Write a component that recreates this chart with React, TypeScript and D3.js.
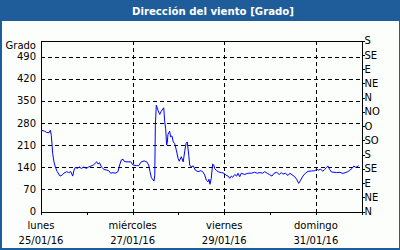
import React from "react";
import * as d3 from "d3";

const startDate = new Date(2016, 0, 25, 0, 0, 0);
const endDate = new Date(2016, 1, 1, 0, 0, 0);

// hours since 25/01/16 00:00
const hours = [
  0, 1.9, 3.0, 4.2, 4.9, 5.4, 5.8, 6.1, 6.8, 7.5, 8.5, 10.0, 11.0, 12.0, 13.5, 14.5, 15.6, 16.6, 17.3, 18.0,
  19.0, 20.1, 21.1, 22.5, 23.7, 25.0, 26.3, 27.4, 29.2, 29.9, 30.7, 31.6, 33.0, 34.4, 35.5, 36.5, 37.7, 38.9,
  40.3, 41.2, 42.1, 43.0, 43.5, 44.5, 47.0, 48.2, 49.9, 51.2, 52.5, 54.0, 55.4, 56.4, 57.1, 57.8, 59.2, 59.6,
  59.9, 60.4, 61.3, 62.2, 63.0, 64.3, 64.8, 65.3, 65.8, 66.2, 66.5, 67.4, 67.9, 68.6, 69.3, 70.0, 70.9, 71.8,
  72.4, 73.5, 74.5, 75.3, 76.0, 76.6, 77.4, 77.9, 78.7, 79.8, 80.8, 82.2, 83.7, 84.7, 85.8, 86.6, 87.5, 88.0,
  88.5, 89.2, 89.9, 90.5, 91.0, 92.0, 93.1, 94.4, 95.9, 96.9, 98.0, 98.9, 99.7, 100.4, 101.5, 102.5, 103.2,
  104.1, 104.9, 106.7, 108.4, 110.2, 111.9, 113.3, 114.7, 116.1, 117.2, 118.5, 119.6, 121.0, 122.1, 123.5,
  124.8, 125.9, 126.8, 128.0, 129.4, 130.4, 131.5, 132.9, 133.9, 135.0, 136.0, 137.2, 138.5, 139.9, 141.6,
  143.4, 144.4, 145.5, 146.5, 147.6, 148.6, 149.7, 150.3, 151.2, 152.1, 153.5, 154.9, 156.6, 157.7, 158.7,
  159.8, 160.8, 161.8, 162.9, 163.9, 164.6, 165.4, 166.4,
];

// wind direction, degrees
const direction = [
  257, 254, 250, 249, 257, 241, 210, 184, 157, 141, 126, 112, 115, 121, 126, 123, 126, 112, 131, 140,
  136, 141, 136, 141, 136, 141, 144, 147, 157, 150, 154, 141, 133, 131, 129, 121, 123, 121,
  126, 147, 163, 165, 159, 157, 157, 147, 145, 145, 157, 160, 157, 147, 126, 107, 96, 115,
  273, 336, 320, 307, 317, 328, 284, 263, 210, 220, 244, 254, 236, 239, 220, 215, 194, 168,
  159, 173, 157, 191, 215, 220, 178, 147, 141, 144, 131, 126, 129, 126, 115, 99, 94, 102,
  86, 105, 150, 147, 136, 129, 125, 123, 121, 115, 112, 105, 112, 108, 117, 112, 121,
  110, 121, 117, 121, 121, 124, 121, 123, 121, 126, 121, 117, 112, 121, 124,
  117, 123, 118, 121, 114, 121, 116, 110, 102, 89, 99, 112, 121, 127, 128,
  129, 133, 131, 134, 127, 133, 140, 144, 133, 125, 124, 123, 124, 121, 121,
  124, 126, 131, 136, 144, 140, 141, 145,
];

const leftTicks = [0, 70, 140, 210, 280, 350, 420, 490];
const rightTicks = [0, 45, 90, 135, 180, 225, 270, 315, 360, 405, 450, 495, 540];
const rightLabels = ["N", "NE", "E", "SE", "S", "SO", "O", "NO", "N", "NE", "E", "SE", "S"];
const dayNames = ["domingo", "lunes", "martes", "miércoles", "jueves", "viernes", "sábado"];

const W = 400;
const H = 250;
const left = 41;
const right = 361.7;
const top = 40.7;
const bottom = 211.5;
const titleColor = "#1e5d9a";
const font = "DejaVu Sans, Verdana, sans-serif";

export default function App() {
  const x = d3.scaleTime().domain([startDate, endDate]).range([left, right]);
  const y = d3.scaleLinear().domain([0, 540]).range([bottom, top]);

  const data = hours.map((h, i) => ({
    t: startDate.getTime() + h * 3600 * 1000,
    v: direction[i],
  }));
  const line = d3
    .line<{ t: number; v: number }>()
    .x((d) => x(new Date(d.t)))
    .y((d) => y(d.v));

  const days = d3.timeDay.range(startDate, d3.timeDay.offset(endDate, 1));
  const labeledDays = days.filter((_, i) => i % 2 === 0 && i < 7);
  const fmt = d3.timeFormat("%d/%m/%y");

  return (
    <svg
      width={W}
      height={H}
      style={{ position: "absolute", left: 0, top: 0 }}
      fontFamily={font}
      fontSize={10}
    >
      <rect x={0} y={0} width={W} height={H} fill="#fcfefc" />
      <rect x={0} y={0} width={W} height={21} fill={titleColor} />
      <rect x={0} y={0} width={2} height={H} fill={titleColor} />
      <rect x={W - 1} y={0} width={1} height={H} fill={titleColor} />
      <rect x={0} y={H - 2} width={W} height={2} fill={titleColor} />
      <text x={213} y={14.5} textAnchor="middle" fill="#ffffff" fontWeight="bold" fontSize={10.2}>
        Dirección del viento [Grado]
      </text>

      {/* horizontal grid */}
      {leftTicks
        .filter((t) => t > 0)
        .map((t) => (
          <line
            key={"h" + t}
            x1={left}
            x2={right}
            y1={Math.round(y(t)) + 0.5}
            y2={Math.round(y(t)) + 0.5}
            stroke="#000"
            strokeDasharray="4,3"
            shapeRendering="crispEdges"
          />
        ))}
      {/* vertical grid */}
      {labeledDays
        .filter((d) => +d > +startDate)
        .map((d) => (
          <line
            key={"v" + +d}
            x1={Math.round(x(d)) + 0.5}
            x2={Math.round(x(d)) + 0.5}
            y1={top}
            y2={bottom}
            stroke="#000"
            strokeDasharray="4,3"
            shapeRendering="crispEdges"
          />
        ))}

      {/* day ticks */}
      {days.map((d) => (
        <line
          key={"t" + +d}
          x1={Math.round(x(d)) + 0.5}
          x2={Math.round(x(d)) + 0.5}
          y1={bottom}
          y2={bottom + 3.5}
          stroke="#000"
          shapeRendering="crispEdges"
        />
      ))}

      {/* frame */}
      <rect
        x={Math.round(left) + 0.5}
        y={Math.round(top) + 0.5}
        width={Math.round(right) - Math.round(left)}
        height={Math.round(bottom) - Math.round(top)}
        fill="none"
        stroke="#000"
        shapeRendering="crispEdges"
      />

      {/* data line */}
      <path d={line(data) || ""} fill="none" stroke="#0000ff" strokeWidth={1} />

      {/* left axis labels */}
      {leftTicks.map((t) => (
        <text key={"l" + t} x={36} y={y(t)} dy="0.36em" textAnchor="end" fill="#000">
          {t}
        </text>
      ))}
      <text x={36} y={49} textAnchor="end" fill="#000">
        Grado
      </text>

      {/* right axis */}
      {rightTicks.map((t, i) => (
        <g key={"r" + t}>
          <line
            x1={Math.round(right)}
            x2={Math.round(right) + 3}
            y1={Math.round(y(t)) + 0.5}
            y2={Math.round(y(t)) + 0.5}
            stroke="#000"
            shapeRendering="crispEdges"
          />
          <text x={364.5} y={y(t)} dy="0.36em" textAnchor="start" fill="#000">
            {rightLabels[i]}
          </text>
        </g>
      ))}

      {/* x labels */}
      {labeledDays.map((d) => (
        <g key={"x" + +d}>
          <text x={x(d)} y={229} textAnchor="middle" fill="#000">
            {dayNames[d.getDay()]}
          </text>
          <text x={x(d)} y={244} textAnchor="middle" fill="#000">
            {fmt(d)}
          </text>
        </g>
      ))}
    </svg>
  );
}
